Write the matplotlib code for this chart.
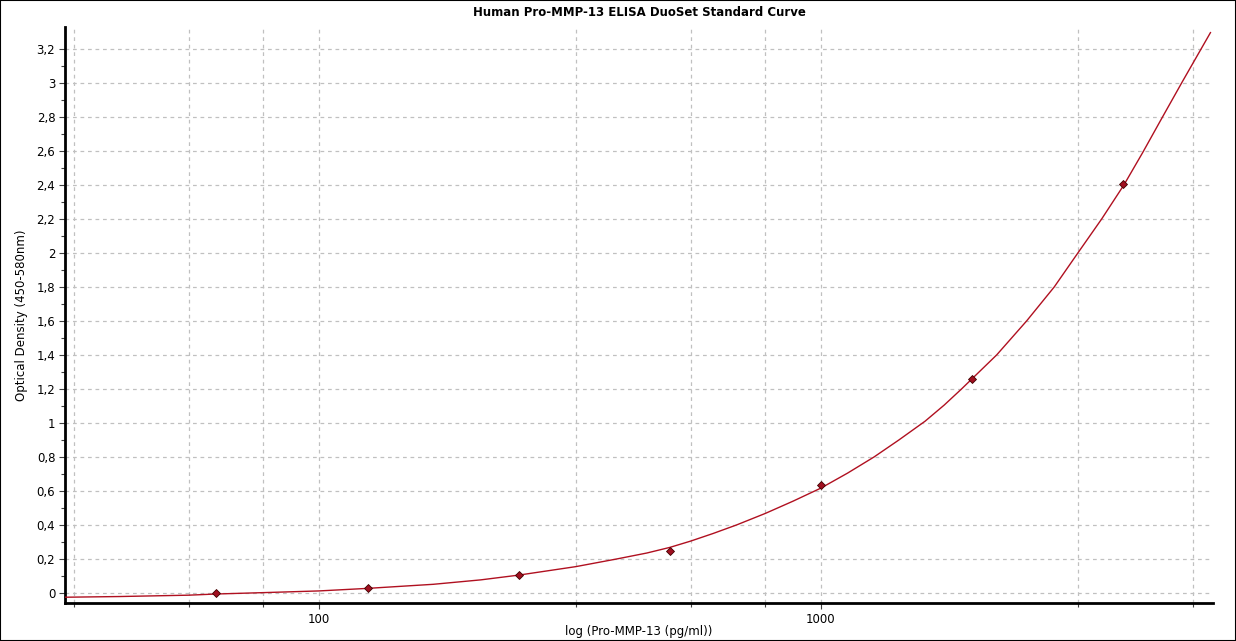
import numpy as np
import matplotlib
matplotlib.use("Agg")
import matplotlib.pyplot as plt
from matplotlib.patches import Rectangle

# standards (pg/ml) and measured OD
std_conc = [62.5, 125, 250, 500, 1000, 2000, 4000]
std_od = [0.002, 0.031, 0.107, 0.249, 0.637, 1.259, 2.407]

# fitted curve
fit_conc = [31.3, 40, 55, 62.5, 77.5, 100, 125, 169, 210, 250, 302, 325, 392,
            450, 500, 550, 610, 679, 775, 880, 1000, 1130, 1276, 1430, 1612,
            1760, 1906, 2239, 2569, 2916, 3250, 3625, 4014, 4374, 4771, 5254, 5970]
fit_od = [-0.025, -0.021, -0.013, -0.006, 0.002, 0.012, 0.027, 0.051, 0.077,
          0.105, 0.141, 0.155, 0.2, 0.235, 0.268, 0.305, 0.35, 0.4, 0.468,
          0.54, 0.617, 0.705, 0.8, 0.9, 1.01, 1.105, 1.2, 1.4, 1.6, 1.8, 2.0,
          2.2, 2.4, 2.59, 2.79, 3.01, 3.296]

y_ticks = [0, 0.2, 0.4, 0.6, 0.8, 1, 1.2, 1.4, 1.6, 1.8, 2, 2.2, 2.4, 2.6, 2.8, 3, 3.2]
y_labels = ["0", "0,2", "0,4", "0,6", "0,8", "1", "1,2", "1,4", "1,6", "1,8",
            "2", "2,2", "2,4", "2,6", "2,8", "3", "3,2"]
x_grid = [32.5, 55, 77.5, 100, 325, 550, 775, 1000, 3250, 5500]

fig = plt.figure(figsize=(12.36, 6.41), dpi=100)
ax = fig.add_axes([65 / 1236, 38 / 641, 1148 / 1236, 576 / 641])

ax.plot(fit_conc, fit_od, color="#b01020", lw=1.0, zorder=3)
ax.plot(std_conc, std_od, "D", ms=4.5, mfc="#a01020", mec="#400000", mew=0.6, zorder=4)

ax.set_xscale("log")
ax.set_xlim(31.2, 6040)
ax.set_ylim(-0.059, 3.329)

ax.set_yticks(y_ticks)
ax.set_yticklabels(y_labels)
ax.set_yticks(np.arange(0.1, 3.3, 0.2), minor=True)
ax.set_xticks([100, 1000])
ax.set_xticklabels(["100", "1000"])
ax.set_xticks([v for v in x_grid if v not in (100, 1000)], minor=True)
ax.xaxis.set_minor_formatter(plt.NullFormatter())

for v in x_grid:
    ax.axvline(v, color="#c0c0c0", lw=0.9, ls=(0, (3, 3)), zorder=1)
for v in y_ticks:
    ax.axhline(v, color="#c0c0c0", lw=0.9, ls=(0, (3, 3)), zorder=1)

ax.tick_params(which="major", length=4, width=0.8, labelsize=8.5, pad=3, color="#404040")
ax.tick_params(which="minor", length=3, width=0.8, color="#404040")

for s in ["top", "right"]:
    ax.spines[s].set_visible(False)
for s in ["left", "bottom"]:
    ax.spines[s].set_linewidth(2)

ax.set_title("Human Pro-MMP-13 ELISA DuoSet Standard Curve", fontsize=8.5,
             fontweight="bold", pad=8)
ax.set_xlabel("log (Pro-MMP-13 (pg/ml))", fontsize=8.5)
ax.xaxis.set_label_coords(0.5, -0.038)
ax.set_ylabel("Optical Density (450-580nm)", fontsize=8.5, labelpad=6)

fig.patches.append(Rectangle((0, 0), 1, 1, transform=fig.transFigure,
                             fill=False, ec="black", lw=1.5))

fig.savefig("out.png", dpi=100)
